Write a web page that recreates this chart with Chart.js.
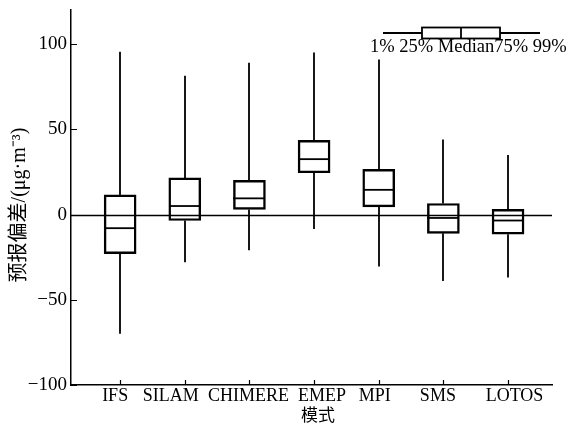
<!DOCTYPE html>
<html>
<head>
<meta charset="utf-8">
<script src="https://cdn.jsdelivr.net/npm/chart.js@4/dist/chart.umd.min.js"></script>
<style>
  html, body { margin: 0; padding: 0; background: #fff; }
  canvas { display: block; }
</style>
</head>
<body>
<canvas id="chart" width="570" height="425"></canvas>
<script>
// Forecast bias distribution per model (µg·m⁻³)
const categories = ['IFS', 'SILAM', 'CHIMERE', 'EMEP', 'MPI', 'SMS', 'LOTOS'];
const p01    = [-70,  -28,  -21,  -8.5, -30.5, -39, -37];
const q25    = [-23,  -3.5,  3,   24.5,  4.5,  -11, -11.5];
const median = [-8,    5,    9.5, 32.5,  14.5, -2,  -3.5];
const q75    = [11.5, 21.5,  20,  43.5,  26.5,  6.5, 3];
const p99    = [95.5, 81.5,  89,  95,    91,    44,  35];

const yTicks = [-100, -50, 0, 50, 100];
const yMin = -100, yMax = 120;
const xMin = 0.24, xMax = 7.68;

// horizontal nudge (px) of each model name so the long names don't collide
const labelNudge = [-5, -14, -1, 8, -4, -5.5, 6.5];

const SERIF = '"Liberation Serif", "Times New Roman", serif';
const CJK = '"Noto Sans CJK SC", sans-serif';

const fmt = v => (v < 0 ? '\u2212' + Math.abs(v) : String(v));

// whiskers, medians, zero line, inward ticks, model names, key and axis titles
const boxExtras = {
  id: 'boxExtras',
  afterDatasetsDraw(chart) {
    const { ctx, chartArea: a, scales: { x, y } } = chart;
    const bars = chart.getDatasetMeta(0).data;
    ctx.save();
    ctx.strokeStyle = '#000';
    ctx.fillStyle = '#000';
    ctx.lineWidth = 1.8;

    categories.forEach((c, i) => {
      const cx = Math.round(x.getPixelForValue(i + 1));
      const half = bars[i].width / 2;
      ctx.beginPath();
      ctx.moveTo(cx, y.getPixelForValue(q75[i]));
      ctx.lineTo(cx, y.getPixelForValue(p99[i]));
      ctx.moveTo(cx, y.getPixelForValue(q25[i]));
      ctx.lineTo(cx, y.getPixelForValue(p01[i]));
      ctx.stroke();
      const my = y.getPixelForValue(median[i]);
      ctx.beginPath();
      ctx.moveTo(cx - half, my);
      ctx.lineTo(cx + half, my);
      ctx.stroke();
    });

    // zero reference line
    ctx.lineWidth = 1.5;
    const y0 = Math.round(y.getPixelForValue(0)) + 0.5;
    ctx.beginPath();
    ctx.moveTo(a.left, y0);
    ctx.lineTo(a.right, y0);
    ctx.stroke();

    // inward tick marks
    ctx.lineWidth = 1.2;
    ctx.beginPath();
    yTicks.forEach(v => {
      const py = Math.round(y.getPixelForValue(v)) + 0.5;
      ctx.moveTo(a.left, py);
      ctx.lineTo(a.left + 6, py);
    });
    categories.forEach((c, i) => {
      const px = Math.round(x.getPixelForValue(i + 1)) + 0.5;
      ctx.moveTo(px, a.bottom);
      ctx.lineTo(px, a.bottom - 5);
    });
    ctx.stroke();

    // model names under the axis
    ctx.font = '18px ' + SERIF;
    ctx.textAlign = 'center';
    ctx.textBaseline = 'alphabetic';
    categories.forEach((c, i) => {
      ctx.fillText(c, x.getPixelForValue(i + 1) + labelNudge[i], a.bottom + 16);
    });

    // key: 1% - 25% - median - 75% - 99%
    ctx.lineWidth = 1.8;
    ctx.beginPath();
    ctx.moveTo(383, 33); ctx.lineTo(422, 33);
    ctx.moveTo(500, 33); ctx.lineTo(540, 33);
    ctx.stroke();
    ctx.strokeRect(422, 27.5, 78, 11);
    ctx.beginPath();
    ctx.moveTo(461, 27.5); ctx.lineTo(461, 38.5);
    ctx.stroke();
    ctx.font = '18.5px ' + SERIF;
    ctx.textAlign = 'left';
    ctx.fillText('1% 25% Median75% 99%', 370, 52);

    // axis titles
    ctx.font = '17px ' + CJK;
    ctx.textAlign = 'center';
    ctx.textBaseline = 'middle';
    ctx.fillText('模式', 318, 415);

    ctx.save();
    ctx.translate(20, 205);
    ctx.rotate(-Math.PI / 2);
    ctx.font = '20px ' + SERIF + ', ' + CJK;
    ctx.fillText('预报偏差/(μg·m⁻³)', 0, 0);
    ctx.restore();

    ctx.restore();
  }
};

new Chart(document.getElementById('chart'), {
  type: 'bar',
  data: {
    datasets: [{
      data: categories.map((c, i) => ({ x: i + 1, y: [q25[i], q75[i]] })),
      backgroundColor: 'rgba(255,255,255,0)',
      borderColor: '#000',
      borderWidth: 1.8,
      borderSkipped: false,
      barThickness: 32
    }]
  },
  options: {
    responsive: false,
    animation: false,
    devicePixelRatio: 1,
    layout: { padding: { top: 10, right: 18, left: 0, bottom: 0 } },
    plugins: { legend: { display: false }, tooltip: { enabled: false }, title: { display: false } },
    scales: {
      x: {
        type: 'linear',
        offset: false,
        min: xMin,
        max: xMax,
        afterFit: s => { s.height = 40; s.paddingLeft = 0; s.paddingRight = 0; },
        afterBuildTicks: s => { s.ticks = categories.map((c, i) => ({ value: i + 1 })); },
        grid: { display: false, drawTicks: false, offset: false },
        border: { display: true, color: '#000', width: 1.5 },
        ticks: { display: false }
      },
      y: {
        type: 'linear',
        min: yMin,
        max: yMax,
        afterFit: s => { s.width = 71; s.paddingTop = 0; s.paddingBottom = 0; },
        afterBuildTicks: s => { s.ticks = yTicks.map(v => ({ value: v })); },
        grid: { display: false, drawTicks: false },
        border: { display: true, color: '#000', width: 1.5 },
        ticks: {
          padding: 4,
          color: '#000',
          font: { family: SERIF, size: 19 },
          callback: v => fmt(v)
        }
      }
    }
  },
  plugins: [boxExtras]
});
</script>
</body>
</html>
